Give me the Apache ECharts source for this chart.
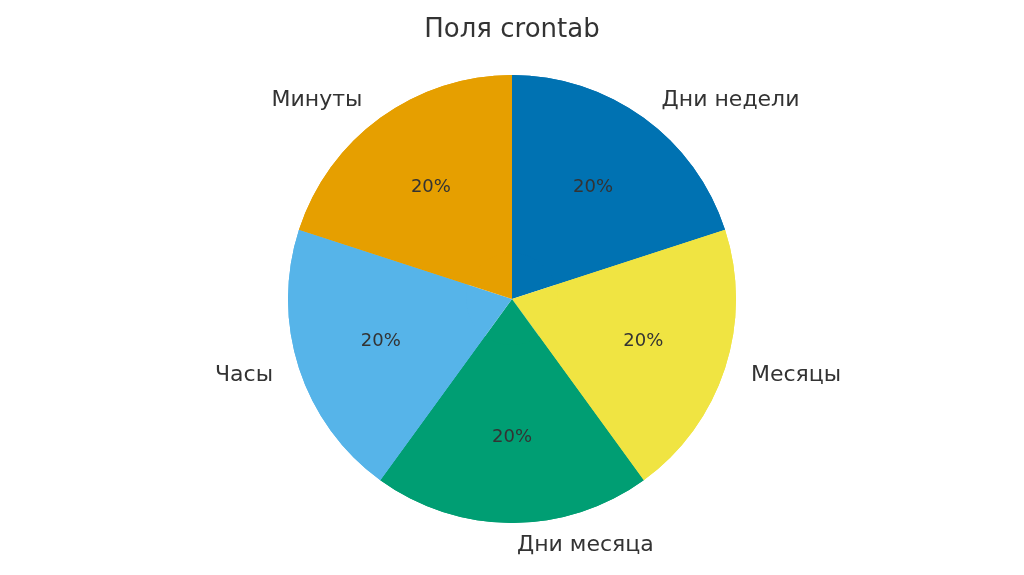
<!DOCTYPE html>
<html>
<head>
<meta charset="utf-8">
<script src="https://cdn.jsdelivr.net/npm/echarts@6/dist/echarts.min.js"></script>
<style>html,body{margin:0;padding:0;background:#fff}#chart{width:1024px;height:575px}</style>
</head>
<body>
<div id="chart"></div>
<script>
const categories = ['Дни недели', 'Месяцы', 'Дни месяца', 'Часы', 'Минуты'];
const values = [1, 1, 1, 1, 1];
const colors = ['#0072B2', '#F0E442', '#009E73', '#56B4E9', '#E69F00'];

const chart = echarts.init(document.getElementById('chart'));
const data = categories.map((name, i) => ({ name, value: values[i], itemStyle: { color: colors[i] } }));
const font = 'DejaVu Sans';

chart.setOption({
  animation: false,
  title: {
    text: 'Поля crontab', left: 'center', top: 12,
    textStyle: { fontFamily: font, fontSize: 26, fontWeight: 'normal', color: '#333' }
  },
  series: [
    {
      type: 'pie', center: [512, 299], radius: [0, 224], startAngle: 90, clockwise: true,
      silent: true, data,
      label: { show: true, position: 'outside', fontFamily: font, fontSize: 22, color: '#333', formatter: '{b}' },
      labelLine: { show: false, length: 22, length2: 0 }
    },
    {
      type: 'pie', center: [512, 299], radius: [46, 224], startAngle: 90, clockwise: true,
      silent: true, data,
      label: { show: true, position: 'inside', fontFamily: font, fontSize: 18, color: '#333', formatter: '{d}%' },
      labelLine: { show: false }
    }
  ]
});
</script>
</body>
</html>
